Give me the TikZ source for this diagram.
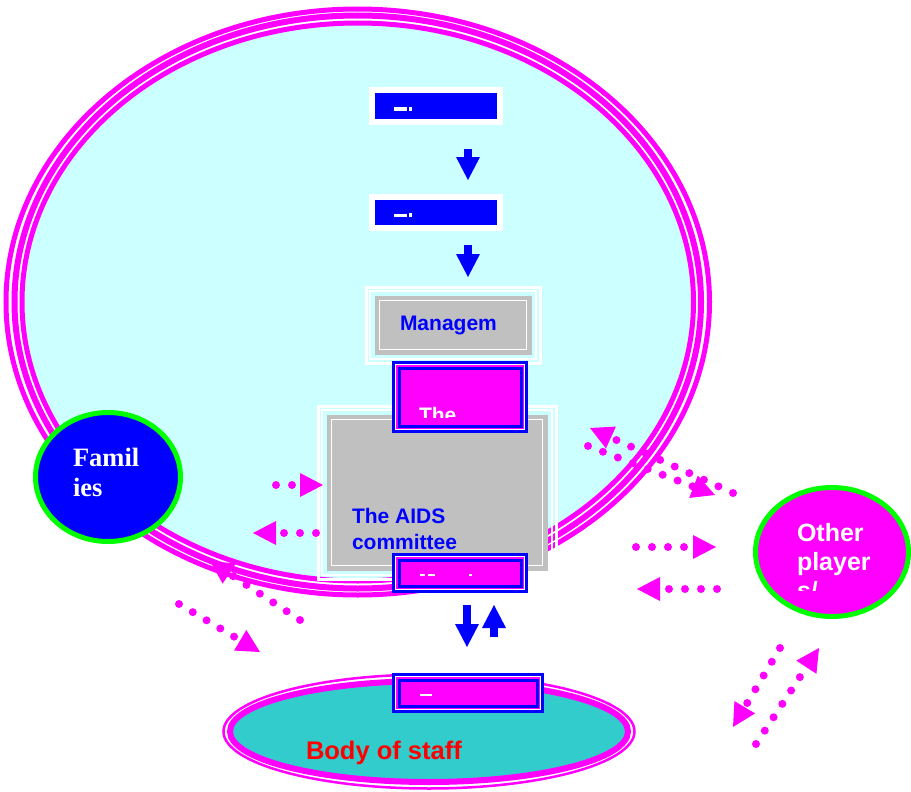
\documentclass[tikz,border=0pt]{standalone}
\usepackage{fontspec}
\setmainfont{Liberation Sans}
\newfontfamily\famserif{Liberation Serif}
\usetikzlibrary{arrows.meta,shapes.geometric}
\definecolor{cyanbg}{HTML}{CCFFFF}
\definecolor{mag}{HTML}{FF00FF}
\definecolor{blu}{HTML}{0000FF}
\definecolor{grn}{HTML}{00FF00}
\definecolor{gry}{HTML}{C0C0C0}
\definecolor{tealfill}{HTML}{33CCCC}
\definecolor{redt}{HTML}{FF0000}
\begin{document}
\begin{tikzpicture}[x=1pt,y=-1pt,
  base/.style={inner sep=0pt, outer sep=0pt},
  oval/.style={base, ellipse},
  bluebox/.style={base, rectangle, fill=blu, draw=white, line width=6pt},
  graybox/.style={base, rectangle, fill=gry, draw=gry, line width=3pt},
  magbox/.style={base, rectangle, fill=mag, draw=blu, line width=3pt},
  blockarrow/.style={draw=blu, line width=8pt, -{Triangle[length=23pt,width=24pt,line width=0pt]}},
  dotarrow/.style={draw=mag, line width=8pt, line cap=round, dash pattern=on 0pt off 16pt,
     -{Triangle[length=23pt,width=24pt,line width=0pt]}},
  txt/.style={base, anchor=base west},
  sansb/.style={font=\fontsize{21}{25}\selectfont\bfseries}
]
\useasboundingbox (0,0) rectangle (911,792);
\fill[white] (0,0) rectangle (911,792);

% big organisation ellipse
\node[oval, minimum width=671.5pt, minimum height=558pt, fill=cyanbg, draw=mag, line width=5pt] (org) at (357.75,302) {};
\draw[mag, line width=6pt] (org.center) ellipse [x radius=343.25, y radius=286.5];
\draw[mag, line width=5pt] (org.center) ellipse [x radius=351.75, y radius=293];

% families and other players
\node[oval, minimum width=145pt, minimum height=129pt, fill=blu, draw=grn, line width=5pt] (fam) at (108,477) {};
\node[oval, minimum width=153pt, minimum height=129pt, fill=mag, draw=grn, line width=5pt] (oth) at (832,552) {};

% body of staff
\node[oval, minimum width=398pt, minimum height=101pt, fill=tealfill, draw=mag, line width=6pt] (bs) at (429,731.5) {};
\draw[mag, line width=2.5pt] (bs.center) ellipse [x radius=205.5, y radius=57];

% top blue boxes
\node[bluebox, minimum width=128pt, minimum height=32pt] (b1) at (436,106) {};
\node[bluebox, minimum width=128pt, minimum height=31pt] (b2) at (436,212.5) {};
\fill[white] (394,107.5) rectangle (407,110.5);
\fill[white] (408.5,107) rectangle (411.5,110.5);
\fill[white] (394,213.5) rectangle (407,216.5);
\fill[white] (408.5,213) rectangle (411.5,216.5);

% management box
\node[graybox, minimum width=154pt, minimum height=56pt] (mg) at (453,325) {};
\draw[white, line width=1.5pt] ([shift={(3.5,3.5)}]mg.north west) rectangle ([shift={(-3.5,-3.5)}]mg.south east);
\draw[white, line width=3pt] ([shift={(-10,-10)}]mg.north west) rectangle ([shift={(10,10)}]mg.south east);
\draw[white, line width=2pt] ([shift={(-6,-6)}]mg.north west) rectangle ([shift={(6,6)}]mg.south east);

% AIDS committee box
\node[graybox, minimum width=218pt, minimum height=153pt] (ai) at (437,492.5) {};
\draw[white, line width=1.5pt] ([shift={(3.5,3.5)}]ai.north west) rectangle ([shift={(-3.5,-3.5)}]ai.south east);
\draw[white, line width=3pt] ([shift={(-10,-10)}]ai.north west) rectangle ([shift={(10,10)}]ai.south east);
\draw[white, line width=2pt] ([shift={(-6,-6)}]ai.north west) rectangle ([shift={(6,6)}]ai.south east);

% magenta boxes
\foreach \n/\cx/\cy/\w/\h in {m1/460/397/133/69, m2/460/573/133/37, m3/468/693/149/37}{
  \node[magbox, minimum width=\w pt, minimum height=\h pt] (\n) at (\cx,\cy) {};
  \draw[white, line width=1pt] ([shift={(2,2)}]\n.north west) rectangle ([shift={(-2,-2)}]\n.south east);
  \draw[blu, line width=3pt] ([shift={(5.5,5.5)}]\n.north west) rectangle ([shift={(-5.5,-5.5)}]\n.south east);
}
\fill[white] (420,574) rectangle (425,576);
\fill[white] (428,574) rectangle (435,576);
\fill[white] (469,574) rectangle (472,576);
\fill[white] (420,694) rectangle (432,696);

% blue block arrows
\coordinate (a1s) at (468,149); \coordinate (a1e) at (468,180);
\coordinate (a2s) at (468,245); \coordinate (a2e) at (468,277);
\coordinate (a3s) at (467,605); \coordinate (a3e) at (467,647);
\coordinate (a4s) at (494,637); \coordinate (a4e) at (494,605);
\draw[blockarrow] (a1s) -- (a1e);
\draw[blockarrow] (a2s) -- (a2e);
\draw[blockarrow] (a3s) -- (a3e);
\draw[blockarrow] (a4s) -- (a4e);

% dotted arrows
\coordinate (d1s) at (276,485); \coordinate (d1e) at (323,485);
\coordinate (d2s) at (316,533); \coordinate (d2e) at (253,533);
\coordinate (d3s) at (300,620); \coordinate (d3e) at (210,561);
\coordinate (d4s) at (179,604); \coordinate (d4e) at (260,652);
\coordinate (d5s) at (588,446); \coordinate (d5e) at (715,495);
\coordinate (d6s) at (733,493); \coordinate (d6e) at (590,428);
\coordinate (d7s) at (636,547); \coordinate (d7e) at (716,547);
\coordinate (d8s) at (717,589); \coordinate (d8e) at (637,589);
\coordinate (d9s) at (756,744); \coordinate (d9e) at (819,648);
\coordinate (d10s) at (780,648); \coordinate (d10e) at (733,727);
\foreach \k in {1,...,10}{ \draw[dotarrow] (d\k s) -- (d\k e); }

% texts
\node[txt, sansb, text=blu] (tmg) at (400,330) {Managem};
\node[txt, sansb, text=blu] (tai1) at (352,523) {The AIDS};
\node[txt, sansb, text=blu] (tai2) at (352,549) {committee};
\begin{scope}
  \clip (402,367) rectangle (522,417);
  \node[txt, sansb, text=white] (tthe) at (419,422) {The};
\end{scope}
\node[txt, text=redt, font=\fontsize{25.5}{30}\selectfont\bfseries] (tbs) at (306,759) {Body of staff};
\node[txt, text=white, font=\famserif\fontsize{26.5}{30}\selectfont\bfseries] (tf1) at (73,466) {Famil};
\node[txt, text=white, font=\famserif\fontsize{26.5}{30}\selectfont\bfseries] (tf2) at (73,496) {ies};
\begin{scope}
  \clip (780,480) rectangle (911,590);
  \node[txt, text=white, font=\fontsize{25}{30}\selectfont\bfseries] (to1) at (797,541) {Other};
  \node[txt, text=white, font=\fontsize{25}{30}\selectfont\bfseries] (to2) at (797,570) {player};
  \node[txt, text=white, font=\fontsize{25}{30}\selectfont\bfseries] (to3) at (797,599) {s/};
\end{scope}
\end{tikzpicture}
\end{document}
